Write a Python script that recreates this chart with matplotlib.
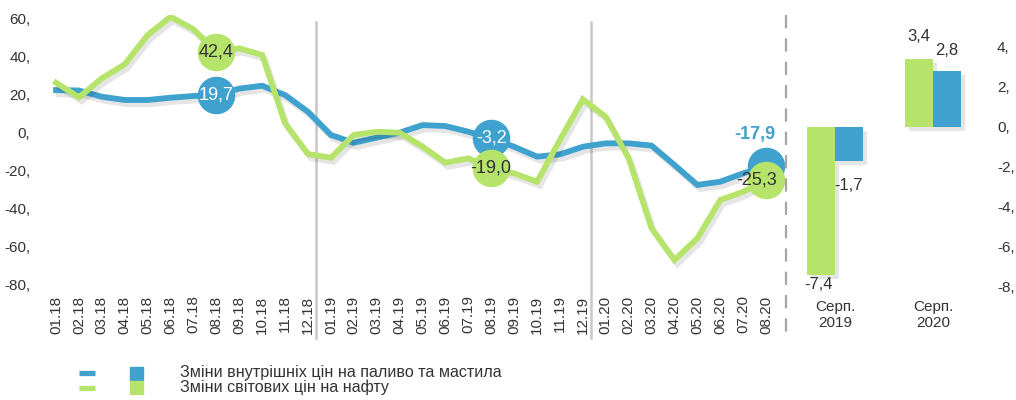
import matplotlib
matplotlib.use("Agg")
import matplotlib.pyplot as plt
import matplotlib.patheffects as pe
from matplotlib.lines import Line2D
from matplotlib.patches import Rectangle

plt.rcParams['font.family'] = ['Liberation Sans', 'DejaVu Sans']

# DATA
months = ["01.18", "02.18", "03.18", "04.18", "05.18", "06.18", "07.18", "08.18",
          "09.18", "10.18", "11.18", "12.18", "01.19", "02.19", "03.19", "04.19",
          "05.19", "06.19", "07.19", "08.19", "09.19", "10.19", "11.19", "12.19",
          "01.20", "02.20", "03.20", "04.20", "05.20", "06.20", "07.20", "08.20"]
fuel = [22.2, 22.0, 18.7, 17.0, 17.0, 18.2, 19.1, 19.7, 23.0, 24.5, 19.6, 10.8,
        -1.4, -5.5, -2.8, -0.2, 3.8, 3.3, 0.3, -3.2, -7.6, -12.8, -11.6, -7.6,
        -5.8, -5.8, -7.0, -17.2, -27.7, -26.0, -21.6, -17.9]
oil = [26.1, 18.4, 28.4, 35.8, 51.2, 60.8, 54.2, 42.4, 44.2, 40.7, 4.7, -11.4,
       -13.4, -1.4, 0.3, -0.2, -7.5, -16.0, -13.7, -19.0, -21.6, -26.0, -4.0, 17.4,
       8.2, -13.7, -50.5, -67.2, -55.8, -35.6, -31.3, -25.3]
marked = [7, 19, 31]

bar_cats = ["Серп.\n2019", "Серп.\n2020"]
bar_oil = [-7.4, 3.4]
bar_fuel = [-1.7, 2.8]

legend_labels = ["Зміни внутрішніх цін на паливо та мастила",
                 "Зміни світових цін на нафту"]

# STYLE
blue = "#3FA1CE"
green = "#B6E36A"
txt = "#333333"
W, H = 1016, 400


def fmt(v):
    return "{:.1f}".format(v).replace(".", ",")


shadow = [pe.SimpleLineShadow(offset=(2, -3), shadow_color="k", alpha=0.1), pe.Normal()]

fig = plt.figure(figsize=(W / 100, H / 100), dpi=100)

# main line chart
ax = fig.add_axes([40 / W, 1 - 284.3 / H, 746 / W, 269.8 / H])
x = list(range(len(months)))
ax.plot(x, fuel, color=blue, lw=4.2, solid_joinstyle="miter", path_effects=shadow, zorder=3)
ax.plot(x, oil, color=green, lw=4.2, solid_joinstyle="miter", path_effects=shadow, zorder=4)

ax.plot([x[i] for i in marked], [fuel[i] for i in marked], "o", ms=26, color=blue,
        mec=blue, zorder=5)
ax.plot([x[i] for i in marked], [oil[i] for i in marked], "o", ms=26, color=green,
        mec=green, zorder=6)

# labels in circles
ax.text(x[7], fuel[7], fmt(fuel[7]), color="white", fontsize=13, ha="center", va="center", zorder=7)
ax.text(x[19], fuel[19], fmt(fuel[19]), color="white", fontsize=13, ha="center", va="center", zorder=7)
ax.text(x[7], oil[7], fmt(oil[7]), color=txt, fontsize=13, ha="center", va="center", zorder=7)
ax.text(x[19], oil[19], fmt(oil[19]), color=txt, fontsize=13, ha="center", va="center", zorder=7)
ax.annotate(fmt(fuel[31]), (x[31], fuel[31]), xytext=(-8, 23), textcoords="offset points",
            color=blue, fontsize=13, fontweight="bold", ha="center", va="center", zorder=7)
ax.annotate(fmt(oil[31]), (x[31], oil[31]), xytext=(-7, 0), textcoords="offset points",
            color=txt, fontsize=13, ha="center", va="center", zorder=7)

ax.set_xlim(-0.7, 31.87)
ax.set_ylim(-80, 62)
ax.set_yticks(range(-80, 61, 20))
ax.set_yticklabels(["{},".format(v) for v in range(-80, 61, 20)])
ax.set_xticks(x)
ax.set_xticklabels(months, rotation=90)
ax.tick_params(length=0, labelsize=11, labelcolor=txt)
ax.tick_params(axis="y", pad=7)
ax.tick_params(axis="x", pad=8)
for s in ax.spines.values():
    s.set_visible(False)

# year separators
for xs in (11.35, 23.36):
    ax.plot([xs, xs], [0.972, -0.199], color="#C8C8C8", lw=1.8,
            transform=ax.get_xaxis_transform(), clip_on=False, zorder=1)

# dashed divider
fig.add_artist(Line2D([786 / W, 786 / W], [1 - 15 / H, 1 - 340 / H], color="#A6A6A6",
                      lw=1.6, dashes=(6, 4.5)))

# bar chart
bx = fig.add_axes([790 / W, 1 - 290 / H, 200 / W, 275.5 / H])
bw = 0.286
pos = list(range(len(bar_cats)))
bar_shadow = [pe.SimplePatchShadow(offset=(3, -3), shadow_rgbFace="k", alpha=0.1), pe.Normal()]
bx.bar([p - bw / 2 for p in pos], bar_oil, bw, color=green, path_effects=bar_shadow)
bx.bar([p + bw / 2 for p in pos], bar_fuel, bw, color=blue, path_effects=bar_shadow)

offs_oil = [(-2, -7), (0, 16)]
offs_fuel = [(0, -18), (0, 15)]
for p, v, o in zip(pos, bar_oil, offs_oil):
    bx.annotate(fmt(v), (p - bw / 2, v), xytext=o, textcoords="offset points",
                ha="center", va="center", fontsize=12, color=txt)
for p, v, o in zip(pos, bar_fuel, offs_fuel):
    bx.annotate(fmt(v), (p + bw / 2, v), xytext=o, textcoords="offset points",
                ha="center", va="center", fontsize=12, color=txt)

bx.set_xlim(-0.459, 1.582)
bx.set_ylim(-8.15, 5.625)
bx.set_xticks(pos)
bx.set_xticklabels(bar_cats)
bx.set_yticks(range(-8, 5, 2))
bx.set_yticklabels(["{},".format(v) for v in range(-8, 5, 2)])
bx.yaxis.tick_right()
bx.tick_params(length=0, labelsize=11, labelcolor=txt)
bx.tick_params(axis="y", pad=5)
bx.tick_params(axis="x", pad=7)
for s in bx.spines.values():
    s.set_visible(False)

# legend
for row, (col, lab) in enumerate(zip([blue, green], legend_labels)):
    yc = 1 - (373 + 14.5 * row) / H
    fig.add_artist(Line2D([79 / W, 95 / W], [yc, yc], color=col, lw=3.8, solid_capstyle="butt"))
    fig.add_artist(Rectangle((130 / W, yc - 6.5 / H), 13 / W, 13 / H, color=col,
                             transform=fig.transFigure))
    fig.text(180 / W, yc, lab, fontsize=11.6, color=txt, va="center", ha="left")

fig.savefig("out.png", dpi=100)
